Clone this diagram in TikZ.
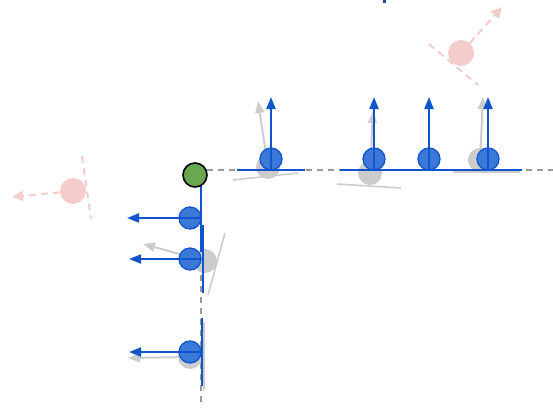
\documentclass[tikz,border=0pt]{standalone}
\usetikzlibrary{arrows.meta}
\definecolor{bluefill}{HTML}{3C78D8}
\definecolor{blueline}{HTML}{1155CC}
\definecolor{ghost}{HTML}{CCCCCC}
\definecolor{guide}{HTML}{999999}
\definecolor{pinkish}{HTML}{F4CCCC}
\definecolor{greenfill}{HTML}{6AA84F}
\definecolor{darkblue}{HTML}{1F4E9B}
\tikzset{
  bluedisk/.style={circle, draw=blueline, fill=bluefill, line width=1.3pt, minimum size=22pt, inner sep=0pt},
  ghostdisk/.style={circle, fill=ghost, minimum size=24pt, inner sep=0pt},
  pinkdisk/.style={circle, fill=pinkish, minimum size=26pt, inner sep=0pt},
  greendisk/.style={circle, draw=black, fill=greenfill, line width=1.6pt, minimum size=24pt, inner sep=0pt},
  bluevec/.style={draw=blueline, line width=2pt, -{Triangle[length=12pt,width=9pt]}},
  bluebase/.style={draw=blueline, line width=2pt},
  ghostvec/.style={draw=ghost, line width=2pt, -{Triangle[length=12pt,width=9pt]}},
  ghostbase/.style={draw=ghost, line width=1.6pt},
  pinkvec/.style={draw=pinkish, line width=2pt, dash pattern=on 7pt off 5pt, -{Triangle[length=11pt,width=10pt]}},
  pinkline/.style={draw=pinkish, line width=2pt, dash pattern=on 7pt off 5pt},
  guideline/.style={draw=guide, line width=1.5pt, dash pattern=on 6pt off 5pt}
}
\begin{document}
\begin{tikzpicture}[x=1pt,y=-1pt]
\useasboundingbox (0,0) rectangle (553,407);

% clipped mark at the top edge
\fill[darkblue] (383,0) rectangle (386,3);

% guide lines through the corner
\coordinate (hstart) at (207,170);
\coordinate (hend) at (553,170);
\coordinate (vstart) at (201,187);
\coordinate (vend) at (201,407);
\draw[guideline] (hstart) -- (hend);
\draw[guideline] (vstart) -- (vend);

% previous poses (grey)
\draw[ghostbase] (233,180) coordinate (g1a) -- (298,173) coordinate (g1b);
\node[ghostdisk] (g1) at (268,167) {};
\coordinate (g1tip) at (258,101);
\draw[ghostvec] (g1.center) -- (g1tip);

\draw[ghostbase] (337,184) coordinate (g2a) -- (401,188) coordinate (g2b);
\node[ghostdisk] (g2) at (370,173) {};
\coordinate (g2tip) at (373,111);
\draw[ghostvec] (g2.center) -- (g2tip);

\draw[ghostbase] (453,172) coordinate (g4a) -- (520,172) coordinate (g4b);
\node[ghostdisk] (g4) at (480,160) {};
\coordinate (g4tip) at (483,97);
\draw[ghostvec] (g4.center) -- (g4tip);

\draw[ghostbase] (208,295) coordinate (g5a) -- (225,233) coordinate (g5b);
\node[ghostdisk] (g5) at (205,261) {};
\coordinate (g5tip) at (143,244);
\draw[ghostvec] (g5.center) -- (g5tip);

\draw[ghostbase] (204,322) coordinate (g6a) -- (204,390) coordinate (g6b);
\node[ghostdisk] (g6) at (190,357) {};
\coordinate (g6tip) at (128,358);
\draw[ghostvec] (g6.center) -- (g6tip);

% outliers (pink)
\draw[pinkline] (82,156) coordinate (p1a) -- (91,219) coordinate (p1b);
\node[pinkdisk] (p1) at (73,191) {};
\coordinate (p1tip) at (12,197);
\draw[pinkvec] (p1) -- (p1tip);

\draw[pinkline] (429,44) coordinate (p2a) -- (478,85) coordinate (p2b);
\node[pinkdisk] (p2) at (461,53) {};
\coordinate (p2tip) at (502,7);
\draw[pinkvec] (p2) -- (p2tip);

% contact segments
\foreach \n/\x in {t1/271, t2/374, t3/429, t4/488}{
  \draw[bluebase] (\x-34,170) -- (\x+34,170);
}
\draw[bluebase] (201,184) -- (201,252);
\draw[bluebase] (202.5,225) -- (202.5,293);
\draw[bluebase] (202,318) -- (202,386);

% current poses (blue)
\foreach \n/\x in {t1/271, t2/374, t3/429, t4/488}{
  \node[bluedisk] (\n) at (\x,159) {};
  \coordinate (\n base) at (\x,170);
  \coordinate (\n tip) at (\x,97);
  \draw[bluevec] (\n base) -- (\n tip);
}
\foreach \n/\y/\t in {l1/218/127, l2/259/129, l3/352/129}{
  \node[bluedisk] (\n) at (190,\y) {};
  \coordinate (\n base) at (201,\y);
  \coordinate (\n tip) at (\t,\y);
  \draw[bluevec] (\n base) -- (\n tip);
}

% corner
\node[greendisk] (corner) at (195,175) {};
\end{tikzpicture}
\end{document}
